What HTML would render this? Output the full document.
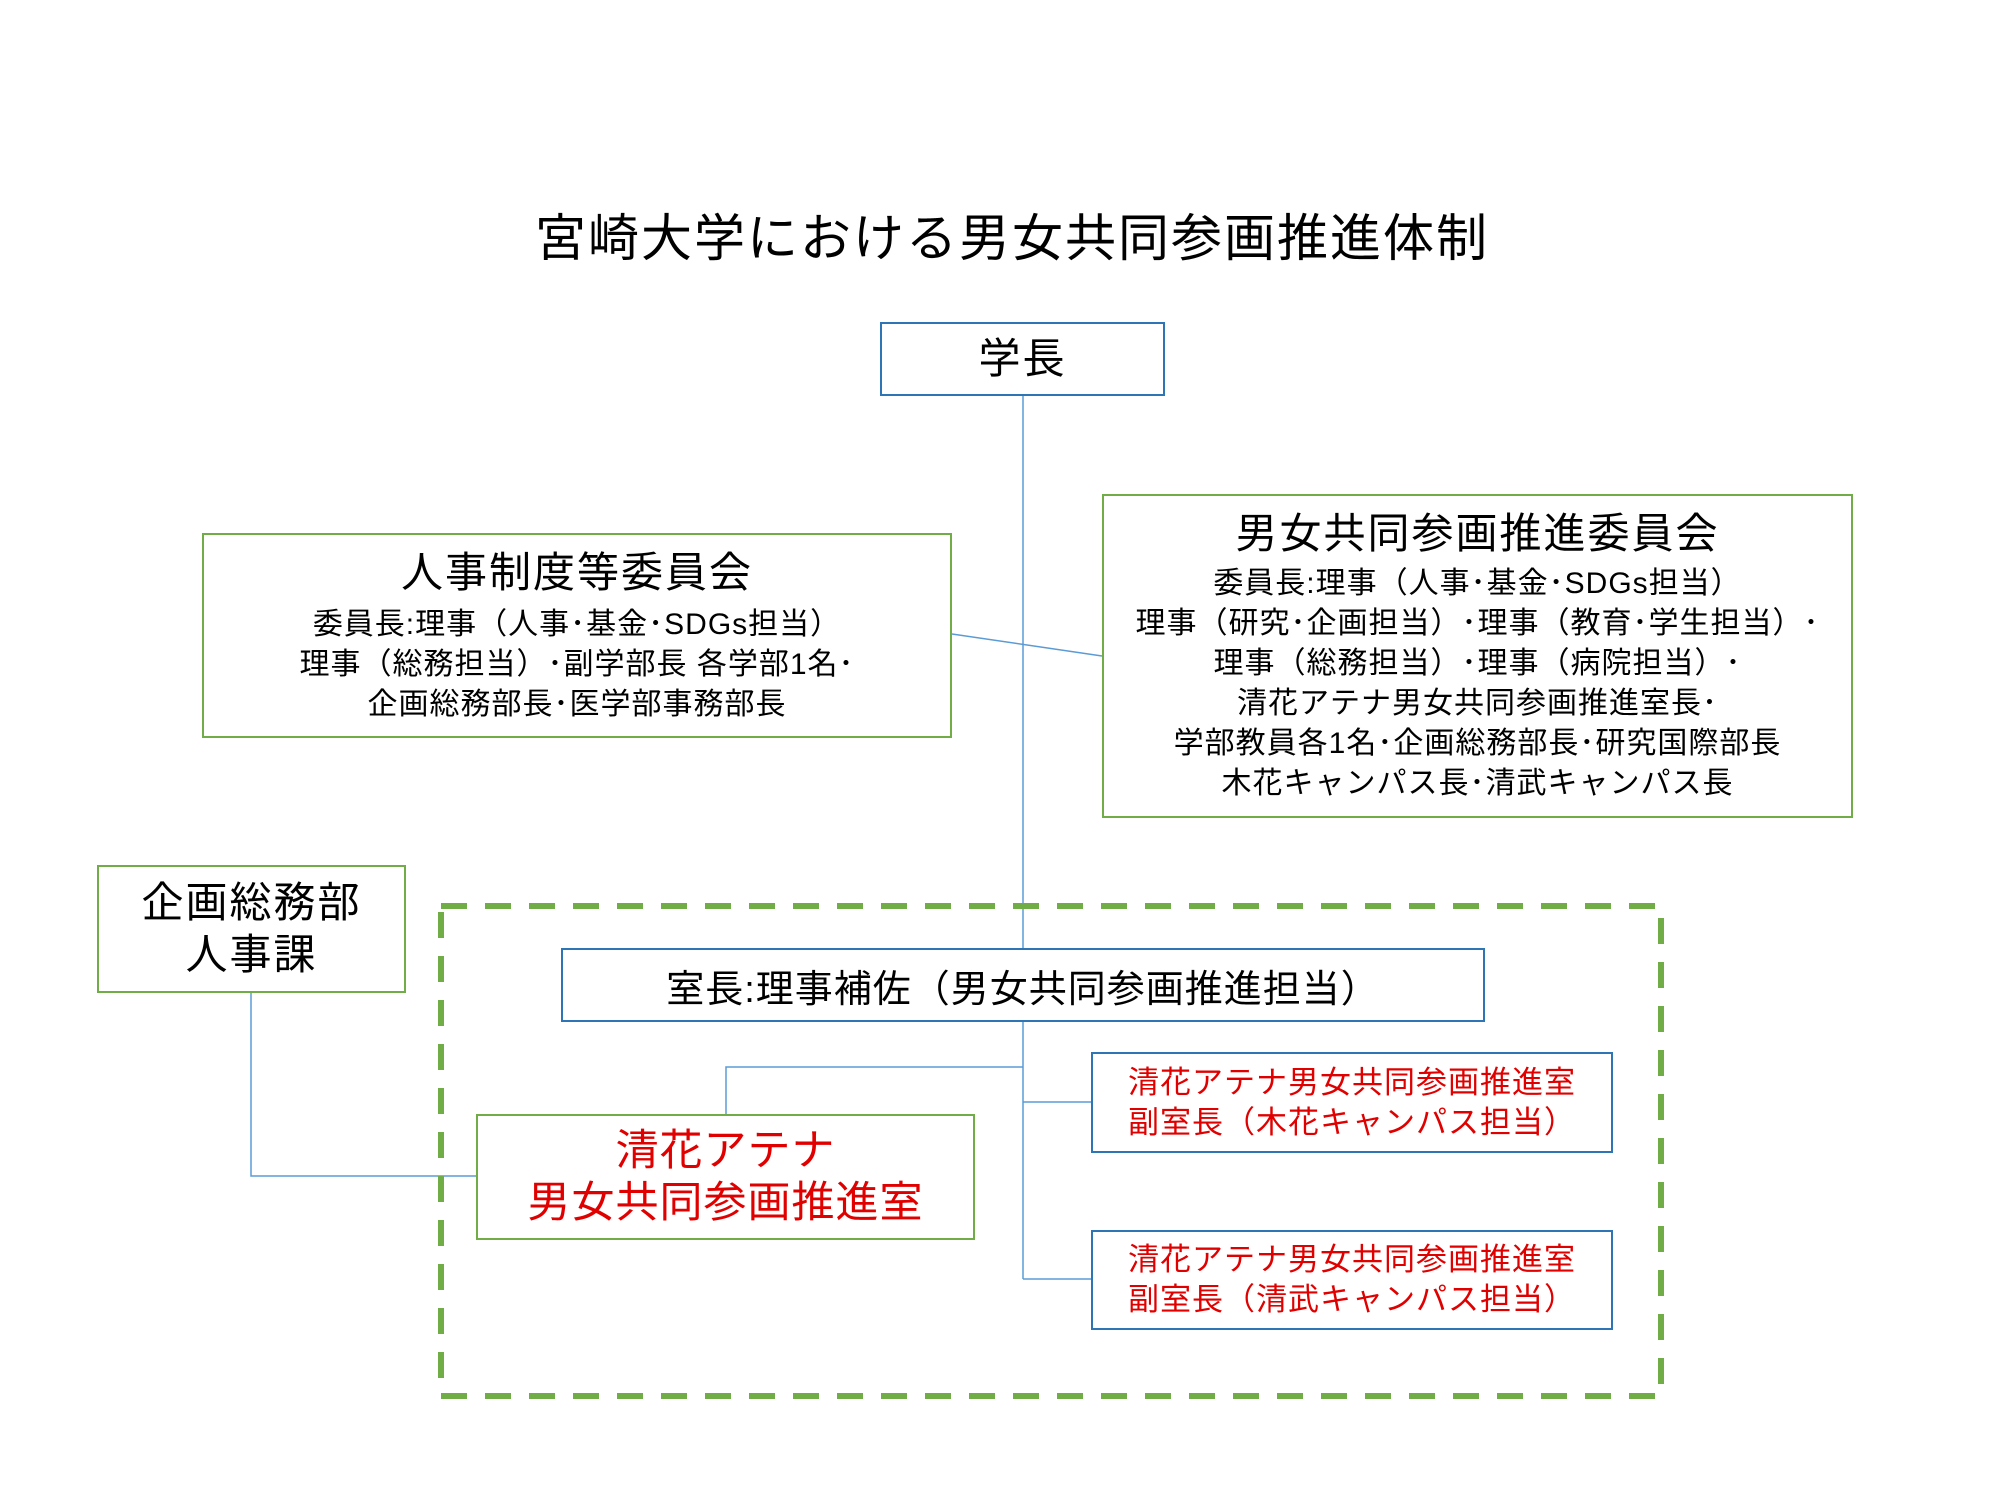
<!DOCTYPE html>
<html><head><meta charset="utf-8"><style>
body{margin:0;width:2000px;height:1500px;background:#fff;position:relative;overflow:hidden;font-family:"Liberation Sans","Noto Sans CJK JP",sans-serif;color:#000}
.b{position:absolute;box-sizing:border-box;display:flex;flex-direction:column;align-items:center;justify-content:center;text-align:center;background:#fff}
.g{border:2px solid #70ad47}
.bl{border:2px solid #2e75b6}
.t{font-size:42px;line-height:52px;letter-spacing:2px}
.s{font-size:30px;line-height:40px;letter-spacing:1px}
.r{color:#e00000}
svg{position:absolute;left:0;top:0}
</style></head><body>
<svg width="2000" height="1500">
<g stroke="#5b9bd5" stroke-width="1.5" fill="none">
<line x1="1023" y1="396" x2="1023" y2="1279"/>
<line x1="952" y1="634" x2="1102" y2="656"/>
<polyline points="1023,1067 726,1067 726,1114"/>
<line x1="1023" y1="1102" x2="1091" y2="1102"/>
<line x1="1023" y1="1279" x2="1091" y2="1279"/>
<polyline points="251,993 251,1176 476,1176"/>
</g>
<rect x="441" y="906" width="1220" height="490" fill="none" stroke="#70ad47" stroke-width="6" stroke-dasharray="26,18"/>
</svg>
<div style="position:absolute;left:0;width:2024px;top:208px;text-align:center;font-size:51px;line-height:62px;letter-spacing:2px">宮崎大学における男女共同参画推進体制</div>
<div class="b bl t" style="left:880px;top:322px;width:285px;height:74px">学長</div>
<div class="b g" style="left:202px;top:533px;width:750px;height:205px"><div class="t" style="margin-bottom:6px">人事制度等委員会</div><div class="s">委員長:理事（人事･基金･SDGs担当）<br>理事（総務担当）･副学部長 各学部1名･<br>企画総務部長･医学部事務部長</div></div>
<div class="b g" style="left:1102px;top:494px;width:751px;height:324px"><div class="t" style="margin-bottom:4px">男女共同参画推進委員会</div><div class="s">委員長:理事（人事･基金･SDGs担当）<br>理事（研究･企画担当）･理事（教育･学生担当）･<br>理事（総務担当）･理事（病院担当）･<br>清花アテナ男女共同参画推進室長･<br>学部教員各1名･企画総務部長･研究国際部長<br>木花キャンパス長･清武キャンパス長</div></div>
<div class="b g t" style="left:97px;top:865px;width:309px;height:128px">企画総務部<br>人事課</div>
<div class="b bl" style="left:561px;top:948px;width:924px;height:74px;font-size:38px;letter-spacing:1px">室長:理事補佐（男女共同参画推進担当）</div>
<div class="b g r" style="left:476px;top:1114px;width:499px;height:126px;font-size:43px;line-height:52px;letter-spacing:1px">清花アテナ<br>男女共同参画推進室</div>
<div class="b bl r" style="left:1091px;top:1052px;width:522px;height:101px;font-size:31px;line-height:40px;letter-spacing:1px">清花アテナ男女共同参画推進室<br>副室長（木花キャンパス担当）</div>
<div class="b bl r" style="left:1091px;top:1230px;width:522px;height:100px;font-size:31px;line-height:40px;letter-spacing:1px">清花アテナ男女共同参画推進室<br>副室長（清武キャンパス担当）</div>
</body></html>
